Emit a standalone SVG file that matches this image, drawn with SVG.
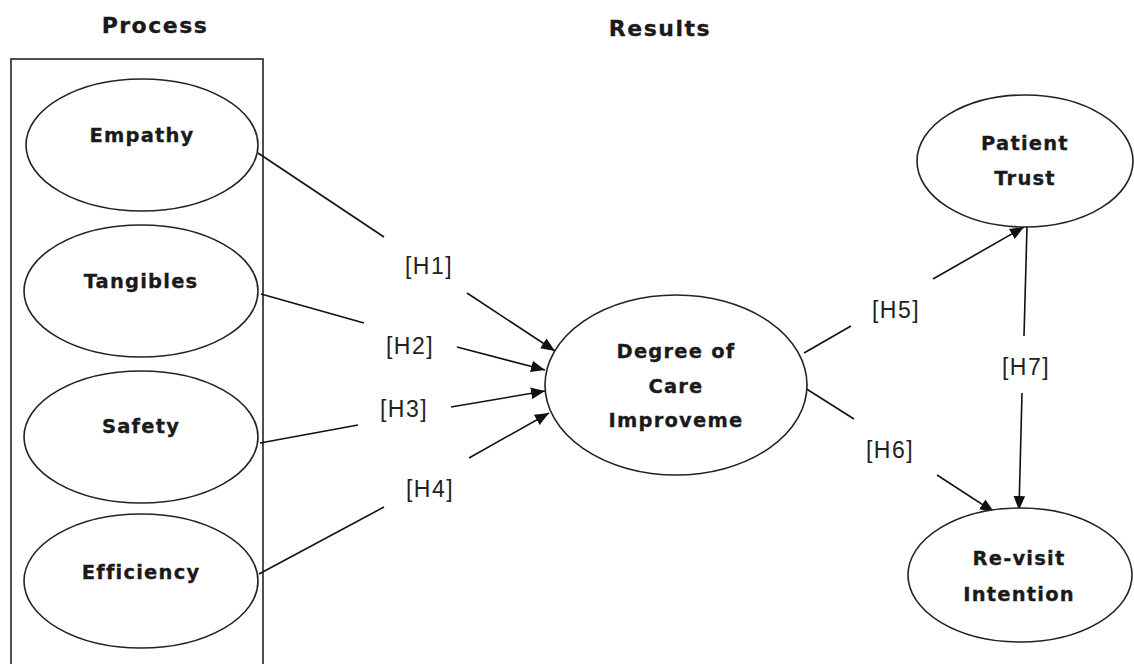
<svg xmlns="http://www.w3.org/2000/svg" width="1134" height="664" viewBox="0 0 1134 664">
<style>
.node ellipse{fill:#fff;stroke:#222;stroke-width:1.6}
.nt{font-family:"DejaVu Sans",sans-serif;font-weight:bold;font-size:19.5px;letter-spacing:1.2px;fill:#1a1a1a;stroke:#1a1a1a;stroke-width:0.3;text-anchor:middle}
.hd{font-family:"DejaVu Sans",sans-serif;font-weight:bold;font-size:22px;letter-spacing:1.5px;fill:#1a1a1a;stroke:#1a1a1a;stroke-width:0.3;text-anchor:middle}
.lb{font-family:"Liberation Sans",Arial,sans-serif;font-size:23px;letter-spacing:1.5px;fill:#222;text-anchor:middle}
#connectors line{stroke:#111;stroke-width:1.6;fill:none}
#connectors line.arr{marker-end:url(#ah)}
</style>
<defs>
<marker id="ah" viewBox="0 0 12 10" refX="12" refY="5" markerWidth="14" markerHeight="12" markerUnits="userSpaceOnUse" orient="auto">
<path d="M0,0 L12,5 L0,10 Z" fill="#111"/>
</marker>
</defs>
<rect width="1134" height="664" fill="#fff"/>
<text class="hd" x="155" y="33">Process</text>
<text class="hd" x="660" y="36">Results</text>
<rect x="11" y="59" width="252" height="620" fill="none" stroke="#222" stroke-width="1.6"/>

<g id="connectors">
<line x1="258" y1="153" x2="384" y2="237"/>
<line class="arr" x1="467" y1="293" x2="555" y2="351"/>
<line x1="261" y1="294" x2="364" y2="323"/>
<line class="arr" x1="457" y1="347" x2="545" y2="370"/>
<line x1="260" y1="443" x2="358" y2="425"/>
<line class="arr" x1="451" y1="407" x2="545" y2="391"/>
<line x1="259" y1="574" x2="384" y2="507"/>
<line class="arr" x1="469" y1="458" x2="549" y2="413"/>
<line x1="804" y1="353" x2="851" y2="326"/>
<line class="arr" x1="933" y1="279" x2="1024" y2="227"/>
<line x1="805" y1="388" x2="854" y2="419"/>
<line class="arr" x1="937" y1="475" x2="994" y2="512"/>
<line x1="1027" y1="227" x2="1024" y2="336"/>
<line class="arr" x1="1022" y1="393" x2="1019" y2="510"/>
<text class="lb" x="429" y="274">[H1]</text>
<text class="lb" x="410" y="354">[H2]</text>
<text class="lb" x="404" y="417">[H3]</text>
<text class="lb" x="430" y="497">[H4]</text>
<text class="lb" x="896" y="318">[H5]</text>
<text class="lb" x="890" y="458">[H6]</text>
<text class="lb" x="1026" y="375">[H7]</text>
</g>

<g id="empathy" class="node"><ellipse cx="142" cy="145" rx="116" ry="66"/><text class="nt" x="142" y="142">Empathy</text></g>
<g id="tangibles" class="node"><ellipse cx="141" cy="291" rx="117" ry="66"/><text class="nt" x="141" y="288">Tangibles</text></g>
<g id="safety" class="node"><ellipse cx="141" cy="437" rx="117" ry="66"/><text class="nt" x="141" y="433">Safety</text></g>
<g id="efficiency" class="node"><ellipse cx="141" cy="581" rx="117" ry="67"/><text class="nt" x="141" y="579">Efficiency</text></g>
<g id="care" class="node"><ellipse cx="676" cy="385" rx="131" ry="90"/><text class="nt" x="676" y="358">Degree of</text><text class="nt" x="676" y="393">Care</text><text class="nt" x="676" y="427">Improveme</text></g>
<g id="trust" class="node"><ellipse cx="1025" cy="161" rx="108" ry="66"/><text class="nt" x="1025" y="150">Patient</text><text class="nt" x="1025" y="185">Trust</text></g>
<g id="revisit" class="node"><ellipse cx="1020" cy="575" rx="112" ry="67"/><text class="nt" x="1019" y="565">Re-visit</text><text class="nt" x="1019" y="601">Intention</text></g>
</svg>
